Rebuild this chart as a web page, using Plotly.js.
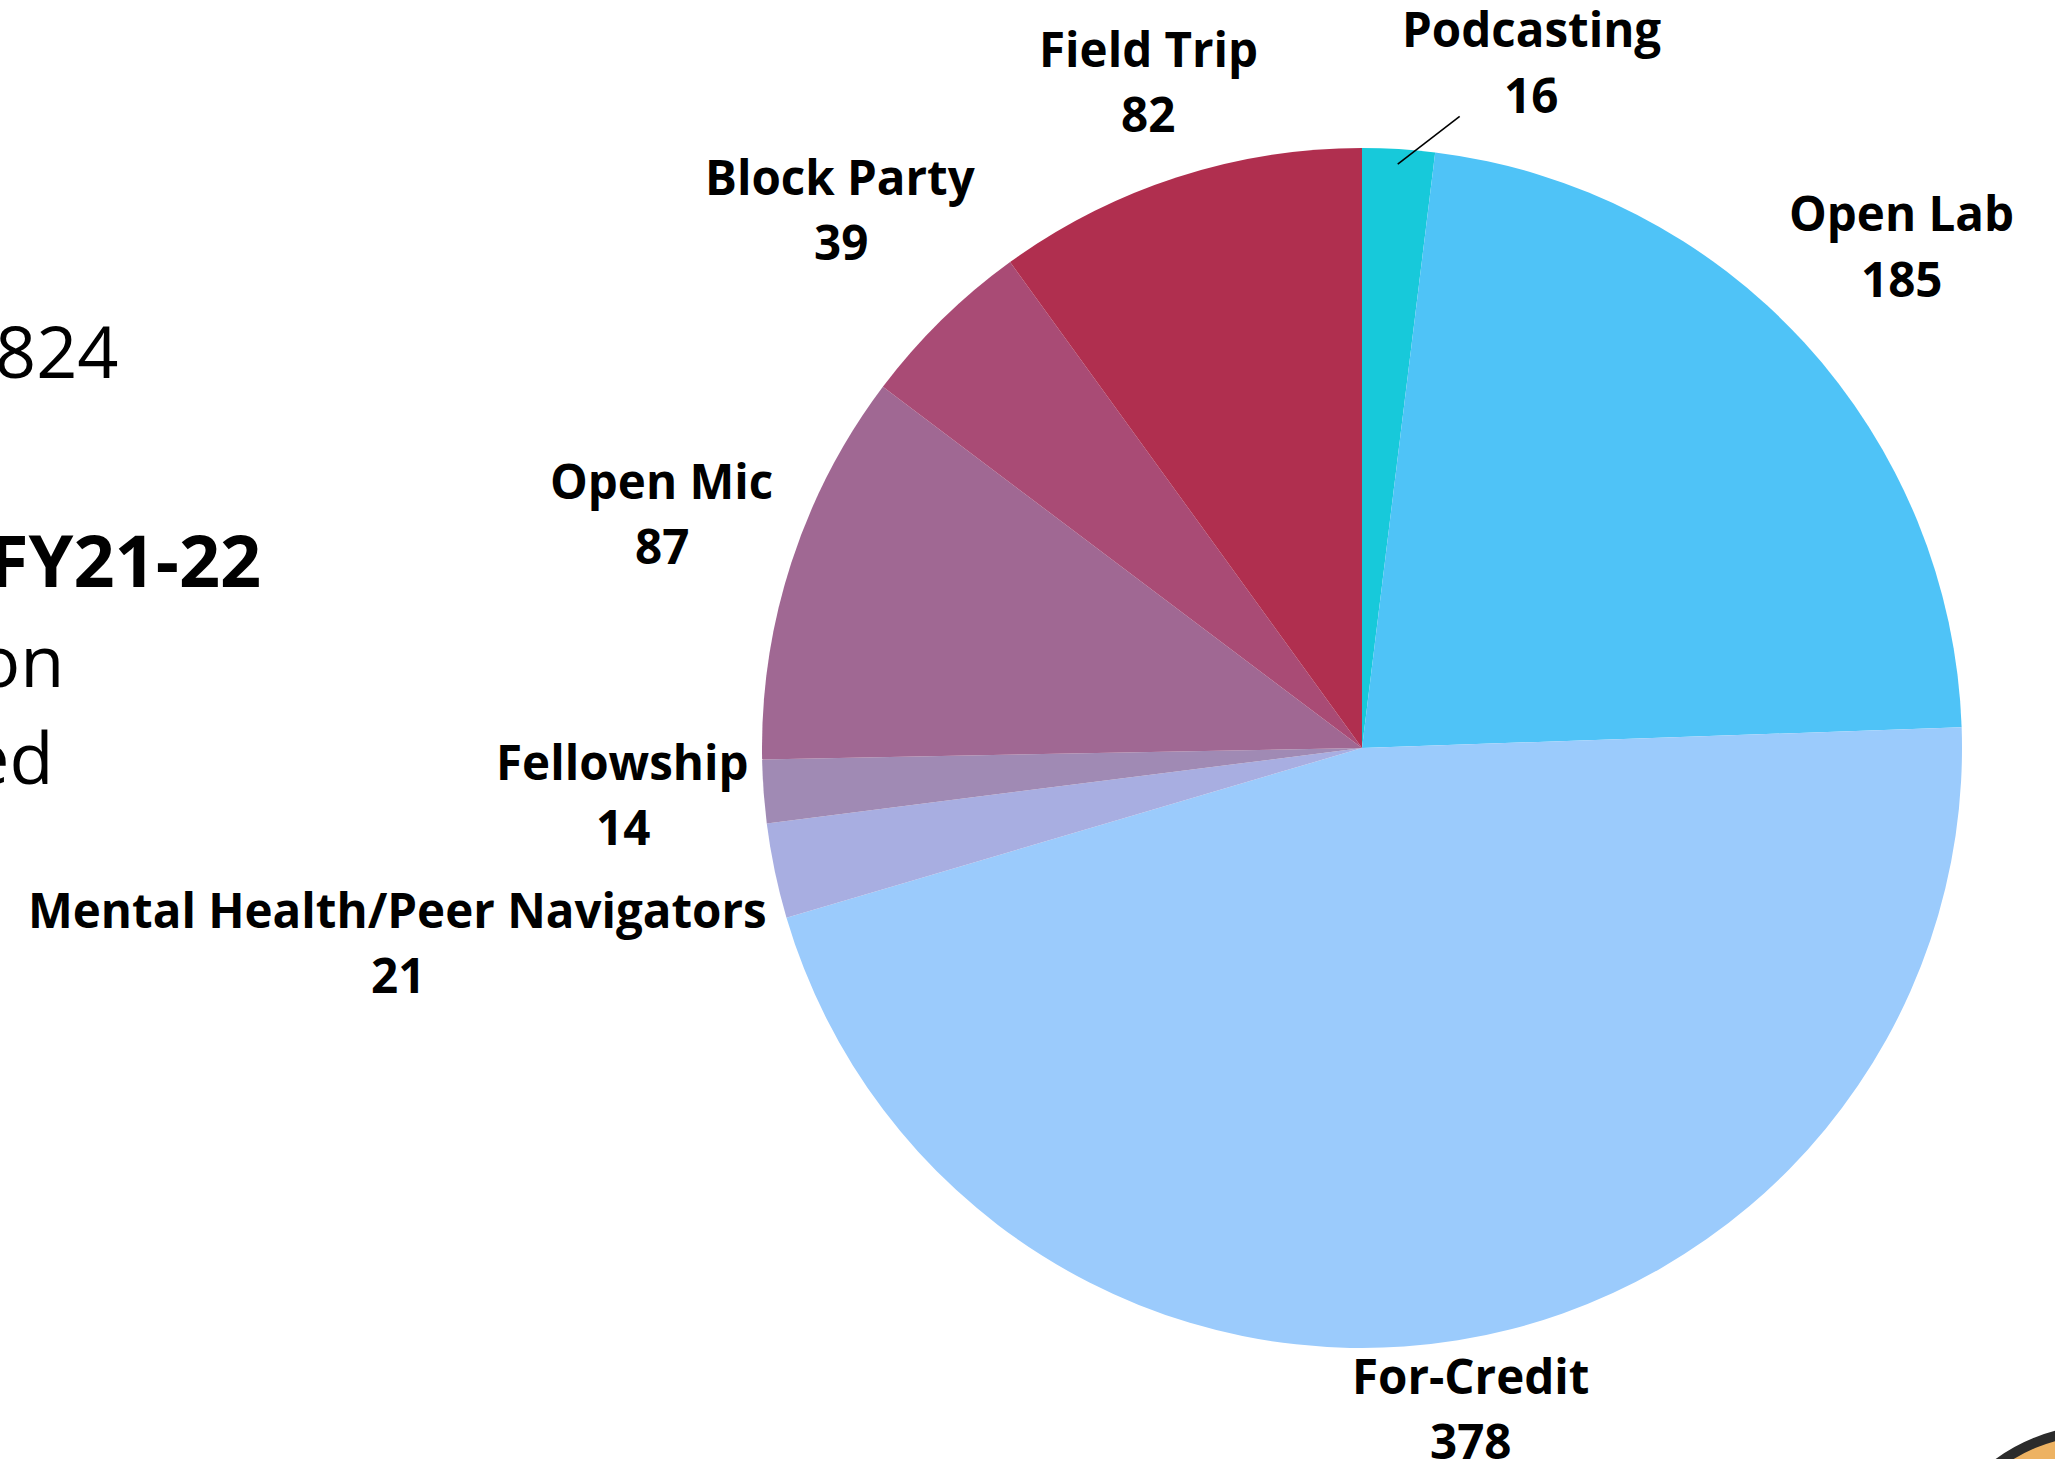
<!DOCTYPE html>
<html>
<head>
<meta charset="utf-8">
<script src="https://cdn.plot.ly/plotly-3.0.1.min.js"></script>
<style>
  html, body { margin: 0; padding: 0; background: #ffffff; }
  #chart { width: 2055px; height: 1459px; }
</style>
</head>
<body>
<div id="chart"></div>
<script>
// Data
const categories = ["Podcasting", "Open Lab", "For-Credit", "Mental Health/Peer Navigators", "Fellowship", "Open Mic", "Block Party", "Field Trip"];
const participants = [16, 185, 378, 21, 14, 87, 39, 82];
const sliceColors = ["#17C9DA", "#4FC3F7", "#9BCBFC", "#A8AEE1", "#A08AB4", "#A06893", "#A94B75", "#B02F4F"];

// Partially visible slide text on the left edge
const sideTexts = ["824", "FY21-22", "on", "ed"];

// Layout / style settings
const W = 2055, H = 1459;
const cx = 1362, cy = 748, R = 600;
const labelFont = { family: "Open Sans", size: 47.5, color: "#000000", weight: 700 };
const labelGap = 13;          // gap between the pie edge and a label box
const labelHalfHeight = 55;   // half height of a two-line label
const lineSpacing = 65.5;     // distance between the name line and the value line
const labelLift = 8;          // small upward optical correction
const movedLabels = { "Podcasting": { angle: 14, extra: 12 } };  // labels moved off their slice, with a leader line

const trace = {
  type: "pie",
  labels: categories,
  values: participants,
  marker: { colors: sliceColors, line: { width: 0 } },
  sort: false,
  direction: "clockwise",
  rotation: 0,
  textinfo: "none",
  textposition: "none",
  hoverinfo: "none",
  domain: {
    x: [(cx - R) / W, (cx + R) / W],
    y: [(H - cy - R) / H, (H - cy + R) / H]
  }
};

// Measure label widths
const cv = document.createElement("canvas");
const ctx = cv.getContext("2d");
ctx.font = "700 " + labelFont.size + "px 'Open Sans'";

function boxDist(px, py, hw, hh) {
  const dx = Math.max(Math.abs(px) - hw, 0);
  const dy = Math.max(Math.abs(py) - hh, 0);
  return Math.sqrt(dx * dx + dy * dy);
}

function labelCenter(angleDeg, hw, hh, extra) {
  const a = angleDeg * Math.PI / 180;
  const ux = Math.sin(a), uy = -Math.cos(a);
  let lo = R * 0.5, hi = R * 3;
  for (let i = 0; i < 60; i++) {
    const mid = (lo + hi) / 2;
    if (boxDist(mid * ux, mid * uy, hw, hh) < R + labelGap) lo = mid; else hi = mid;
  }
  const d = lo + (extra || 0);
  return [cx + d * ux, cy + d * uy];
}

const px = x => x / W;
const py = y => 1 - y / H;

const total = participants.reduce((s, v) => s + v, 0);
const sliceAnnotations = [];
const leaderLines = [];
let cum = 0;
categories.forEach((name, i) => {
  const v = participants[i];
  const midAngle = (cum + v / 2) / total * 360;
  cum += v;
  const w = Math.max(ctx.measureText(name).width, ctx.measureText(String(v)).width);
  const hw = w / 2, hh = labelHalfHeight;
  const moved = movedLabels[name];
  const [lx, ly0] = moved ? labelCenter(moved.angle, hw, hh, moved.extra) : labelCenter(midAngle, hw, hh, 0);
  const ly = ly0 - labelLift;
  sliceAnnotations.push({ text: name, x: px(lx), y: py(ly - lineSpacing / 2) });
  sliceAnnotations.push({ text: String(v), x: px(lx), y: py(ly + lineSpacing / 2) });
  if (moved) {
    const a = midAngle * Math.PI / 180;
    const tx = cx + 0.975 * R * Math.sin(a), ty = cy - 0.975 * R * Math.cos(a);
    // end of the leader line: where the segment tip -> label centre meets the label box bottom
    const ddx = lx - tx, ddy = ly - ty;
    const t = (Math.abs(ddy) - hh) / Math.abs(ddy);
    const ex = tx + ddx * t, ey = ty + ddy * t;
    leaderLines.push({ type: "line", xref: "paper", yref: "paper",
      x0: px(tx), y0: py(ty), x1: px(ex), y1: py(ey),
      line: { color: "#000000", width: 1.6 } });
  }
});
sliceAnnotations.forEach(a => Object.assign(a, {
  xref: "paper", yref: "paper", showarrow: false, xanchor: "center", yanchor: "middle", font: labelFont
}));

const sideAnnotations = [
  { text: sideTexts[0], x: 121 / W, y: 1 - 350 / H,
    font: { family: "Open Sans", size: 72, color: "#000000", weight: 400 } },
  { text: sideTexts[1], x: 263 / W, y: 1 - 559 / H,
    font: { family: "Open Sans", size: 72, color: "#000000", weight: 700 } },
  { text: sideTexts[2], x: 66 / W, y: 1 - 659 / H,
    font: { family: "Open Sans", size: 72, color: "#000000", weight: 400 } },
  { text: sideTexts[3], x: 55 / W, y: 1 - 756 / H,
    font: { family: "Open Sans", size: 72, color: "#000000", weight: 400 } }
].map(a => Object.assign({ xref: "paper", yref: "paper", showarrow: false, xanchor: "right", yanchor: "middle" }, a));

const logo = { type: "circle", xref: "paper", yref: "paper",
  x0: (2100 - 172) / W, x1: (2100 + 172) / W,
  y0: 1 - (1602 + 172) / H, y1: 1 - (1602 - 172) / H,
  fillcolor: "#EDB262", line: { color: "#2B2B2B", width: 10 } };

const layout = {
  width: W,
  height: H,
  margin: { l: 0, r: 0, t: 0, b: 0, pad: 0 },
  paper_bgcolor: "#ffffff",
  plot_bgcolor: "#ffffff",
  showlegend: false,
  font: { family: "Open Sans", color: "#000000" },
  annotations: sideAnnotations.concat(sliceAnnotations),
  shapes: [logo].concat(leaderLines)
};

Plotly.newPlot("chart", [trace], layout, { staticPlot: true, displayModeBar: false });
</script>
</body>
</html>
